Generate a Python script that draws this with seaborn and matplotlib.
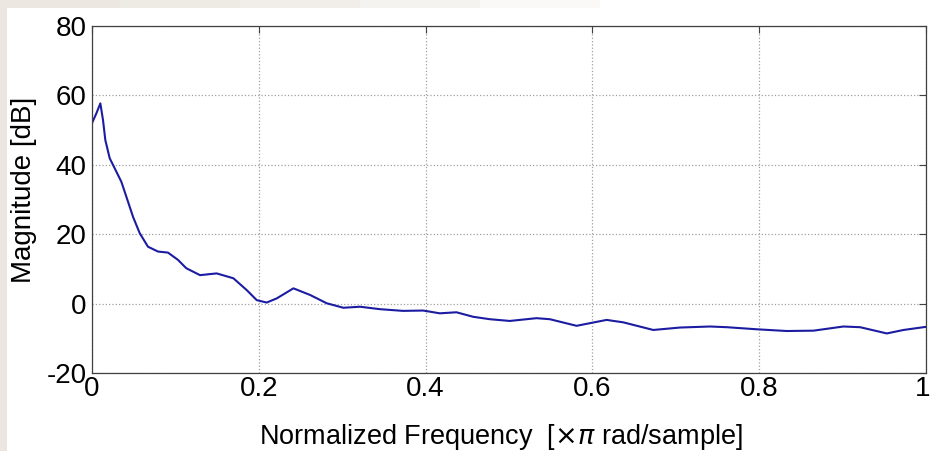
import matplotlib
matplotlib.use("Agg")
import matplotlib.pyplot as plt
import matplotlib.transforms as mtransforms
from matplotlib.patches import Rectangle
from matplotlib.ticker import FormatStrFormatter
import seaborn as sns
import pandas as pd

# === Data (normalized frequency, magnitude in dB) ===
freq = [0.0, 0.0052, 0.0100, 0.0132, 0.0160, 0.0212, 0.0272, 0.0352, 0.0412,
        0.0492, 0.0572, 0.0671, 0.0791, 0.0911, 0.1031, 0.1130, 0.1295, 0.1495,
        0.1695, 0.1855, 0.1975, 0.2095, 0.2215, 0.2415, 0.2614, 0.2814, 0.3014,
        0.3213, 0.345, 0.373, 0.397, 0.417, 0.437, 0.457, 0.477, 0.501, 0.533,
        0.549, 0.581, 0.617, 0.637, 0.673, 0.705, 0.741, 0.761, 0.797, 0.833,
        0.865, 0.901, 0.921, 0.953, 0.973, 1.0]
mag = [52.0, 54.8, 57.7, 52.9, 47.1, 41.9, 39.0, 35.1, 30.8,
       25.0, 20.3, 16.4, 15.0, 14.7, 12.6, 10.2, 8.2, 8.7,
       7.3, 3.9, 1.0, 0.3, 1.5, 4.4, 2.5, 0.1, -1.2,
       -0.9, -1.6, -2.1, -2.0, -2.8, -2.5, -3.8, -4.5, -5.0, -4.2,
       -4.5, -6.4, -4.7, -5.4, -7.6, -6.9, -6.6, -6.8, -7.4, -7.9,
       -7.8, -6.6, -6.8, -8.6, -7.6, -6.7]
x_ticks = [0, 0.2, 0.4, 0.6, 0.8, 1]
y_ticks = [-20, 0, 20, 40, 60, 80]

df = pd.DataFrame({"freq": freq, "mag": mag})

# === Style ===
sns.set_theme(style="whitegrid")
plt.rcParams["font.family"] = ["Liberation Sans", "DejaVu Sans"]
plt.rcParams["mathtext.fontset"] = "dejavusans"

W, H = 931, 451
fig = plt.figure(figsize=(W / 100, H / 100), dpi=100)
fig.patch.set_facecolor("white")

# slide-like beige edge along the left side and a fading strip along the top
fig.patches.append(Rectangle((0, 0), 7 / W, 1, transform=fig.transFigure,
                             facecolor="#ebe6df", edgecolor="none", zorder=0))
for x0, x1, col in [(0, 120, "#ece7e0"), (120, 240, "#eeeae4"),
                    (240, 360, "#f1eee9"), (360, 480, "#f5f3f0"),
                    (480, 600, "#faf9f7")]:
    fig.patches.append(Rectangle((x0 / W, 1 - 8 / H), (x1 - x0) / W, 8 / H,
                                 transform=fig.transFigure, facecolor=col,
                                 edgecolor="none", zorder=0))

ax = fig.add_axes([92 / W, 78 / H, 834 / W, 347 / H])
ax.set_facecolor("white")

sns.lineplot(data=df, x="freq", y="mag", ax=ax, color="#1c1ca2",
             linewidth=1.5, sort=False, estimator=None)
ax.lines[0].set_solid_joinstyle("round")

ax.set_xlim(0, 1)
ax.set_ylim(-20, 80)
ax.set_xticks(x_ticks)
ax.set_yticks(y_ticks)
ax.xaxis.set_major_formatter(FormatStrFormatter("%g"))
ax.yaxis.set_major_formatter(FormatStrFormatter("%g"))

ax.grid(True, linestyle=":", color="#a0a0a0", linewidth=0.9)
for sp in ax.spines.values():
    sp.set_color("#404040")
    sp.set_linewidth(0.9)
ax.tick_params(direction="in", length=5, width=0.8, color="#404040",
               top=True, right=True, labelsize=20, labelcolor="black")
ax.tick_params(axis="x", pad=2.5)
ax.tick_params(axis="y", pad=4)

# keep the last x tick label inside the canvas
fig.canvas.draw()
last = ax.get_xticklabels()[-1]
last.set_transform(last.get_transform() +
                   mtransforms.ScaledTranslation(-3 / 100, 0, fig.dpi_scale_trans))

ax.set_xlabel(r"Normalized Frequency  [$\times\pi$ rad/sample]", fontsize=19.5,
              color="black")
ax.set_ylabel("Magnitude [dB]", fontsize=20, color="black")
ax.xaxis.set_label_coords(0.49, -0.14)
ax.yaxis.set_label_coords(-0.066, 0.527)

fig.savefig("out.png", dpi=100)
